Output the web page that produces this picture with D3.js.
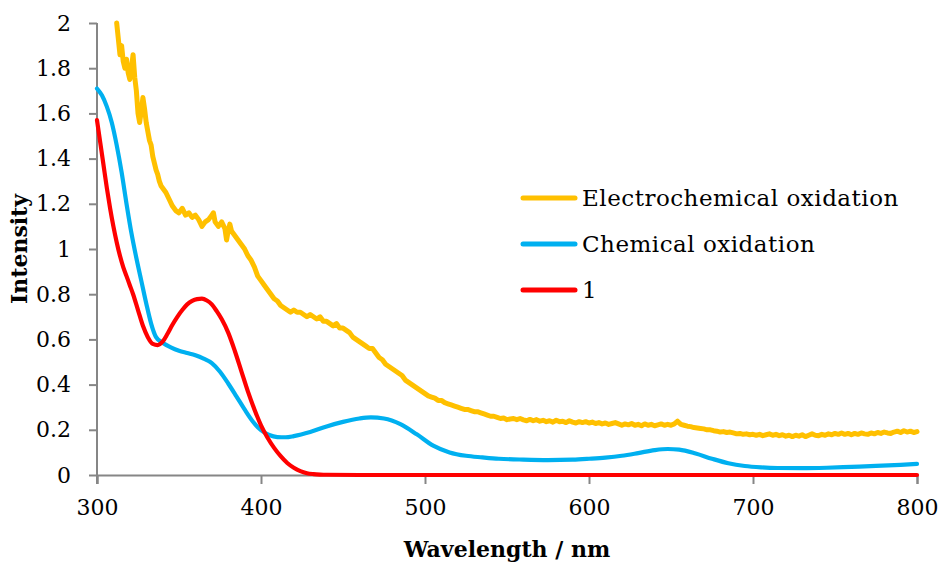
<!DOCTYPE html>
<html><head><meta charset="utf-8">
<script src="https://cdn.jsdelivr.net/npm/d3@7/dist/d3.min.js"></script>
<style>body{margin:0;background:#fff}svg{display:block}text{font-family:"DejaVu Serif",serif}</style>
</head><body><svg id="c" width="942" height="565"></svg>
<script>
const xTicks=[300,400,500,600,700,800];
const yTicks=[0,0.2,0.4,0.6,0.8,1,1.2,1.4,1.6,1.8,2];
const seriesNames=["Electrochemical oxidation","Chemical oxidation","1"];
const seriesColors=["#FFC000","#00B0F0","#FF0000"];
// Electrochemical oxidation: [wavelength, intensity]
const electro=[[312,2.00],[313,1.93],[314,1.86],[315,1.90],[316,1.83],[317,1.80],[318,1.84],[319,1.78],[320,1.75],[321,1.80],[322,1.86],[323,1.76],[324,1.70],[325,1.60],[326,1.56],[327,1.61],[328,1.67],[329,1.62],[330,1.56],[331,1.52],[332,1.48],[333,1.46],[334,1.41],[335,1.38],[336,1.35],[337,1.33],[338,1.30],[339,1.28],[340,1.27],[342,1.25],[344,1.22],[346,1.19],[348,1.17],[350,1.16],[352,1.18],[354,1.15],[356,1.16],[358,1.14],[360,1.15],[362,1.13],[364,1.10],[366,1.12],[368,1.13],[370,1.15],[371,1.16],[372,1.12],[374,1.10],[376,1.12],[378,1.09],[379,1.04],[380,1.08],[381,1.11],[382,1.08],[384,1.06],[386,1.04],[388,1.02],[390,1.00],[392,0.97],[394,0.95],[396,0.92],[398,0.88],[400,0.86],[402,0.84],[404,0.82],[406,0.80],[408,0.78],[410,0.77],[412,0.75],[414,0.74],[416,0.73],[418,0.72],[420,0.73],[422,0.72],[424,0.72],[426,0.71],[428,0.70],[430,0.71],[432,0.70],[434,0.69],[436,0.70],[438,0.68],[440,0.68],[442,0.67],[444,0.66],[446,0.67],[448,0.65],[450,0.65],[452,0.64],[454,0.63],[456,0.61],[458,0.60],[460,0.59],[462,0.58],[464,0.57],[466,0.56],[468,0.56],[470,0.54],[472,0.52],[474,0.51],[476,0.49],[478,0.48],[480,0.47],[482,0.46],[484,0.45],[486,0.44],[488,0.42],[490,0.41],[492,0.40],[494,0.39],[496,0.38],[498,0.37],
[500,0.36],[502,0.35],[504,0.345],[506,0.34],[508,0.33],[510,0.33],[512,0.32],[514,0.315],[516,0.31],[518,0.305],[520,0.30],[522,0.295],[524,0.29],[526,0.29],[528,0.285],[530,0.28],[532,0.28],[534,0.275],[536,0.27],[538,0.265],[540,0.26],[542,0.26],[544,0.255],[546,0.25],[548,0.252],[550,0.245],[552,0.248],[554,0.25],[556,0.245],[558,0.25],[560,0.244],[562,0.24],[564,0.246],[566,0.24],[568,0.245],[570,0.238],[572,0.242],[574,0.236],[576,0.24],[578,0.234],[580,0.242],[582,0.236],[584,0.238],[586,0.232],[588,0.24],[590,0.234],[592,0.23],[594,0.236],[596,0.232],[598,0.236],[600,0.23],[602,0.234],[604,0.228],[606,0.232],[608,0.226],[610,0.23],[612,0.224],[614,0.228],[616,0.232],[618,0.226],[620,0.22],[622,0.226],[624,0.222],[626,0.228],[628,0.22],[630,0.224],[632,0.218],[634,0.226],[636,0.22],[638,0.224],[640,0.218],[642,0.222],[644,0.226],[646,0.22],[648,0.224],[650,0.22],[652,0.226],[654,0.238],[656,0.224],[658,0.22],[660,0.216],[662,0.214],[664,0.21],[666,0.208],[668,0.206],[670,0.204],[672,0.2],[674,0.2],[676,0.196],[678,0.194],[680,0.19],[682,0.192],[684,0.188],[686,0.19],[688,0.186],[690,0.182],[692,0.184],[694,0.18],[696,0.182],[698,0.178],[700,0.18],[702,0.176],[704,0.18],[706,0.174],[708,0.178],[710,0.182],[712,0.176],[714,0.18],[716,0.174],[718,0.178],[720,0.172],[722,0.176],[724,0.17],[726,0.176],[728,0.172],[730,0.178],[732,0.17],[734,0.176],[736,0.182],[738,0.176],[740,0.174],[742,0.18],[744,0.176],[746,0.182],[748,0.178],[750,0.184],[752,0.18],[754,0.186],[756,0.18],[758,0.184],[760,0.178],[762,0.184],[764,0.18],[766,0.186],[768,0.182],[770,0.18],[772,0.186],[774,0.182],[776,0.188],[778,0.184],[780,0.19],[782,0.186],[784,0.184],[786,0.19],[788,0.194],[790,0.188],[792,0.196],[794,0.19],[796,0.194],[798,0.188],[800,0.192]];
const chemX=[300,303,306,309,312,315,318,321,324,327,330,333,336,340,345,350,355,360,365,370,375,380,385,390,395,400,405,410,415,420,430,440,450,460,467,475,485,495,505,515,525,535,545,560,575,590,600,610,620,630,640,648,655,665,675,685,695,705,715,730,745,760,775,790,800];
const chemY=[1.71,1.68,1.63,1.56,1.46,1.34,1.20,1.07,0.96,0.86,0.76,0.67,0.61,0.585,0.565,0.55,0.54,0.53,0.515,0.495,0.457,0.405,0.348,0.29,0.237,0.198,0.177,0.168,0.167,0.172,0.19,0.215,0.235,0.25,0.255,0.25,0.225,0.18,0.13,0.10,0.085,0.078,0.072,0.068,0.066,0.068,0.072,0.077,0.085,0.097,0.11,0.115,0.112,0.095,0.072,0.052,0.04,0.034,0.031,0.03,0.032,0.036,0.04,0.045,0.049];
const oneX=[300,302,304,306,308,310,312,314,316,318,320,322,325,328,331,334,337,340,343,346,349,352,355,358,361,364,367,370,373,376,380,384,388,392,396,400,404,408,412,416,420,424,428,432,436,440,460,500,600,700,800];
const oneY=[1.57,1.47,1.37,1.27,1.18,1.10,1.03,0.97,0.92,0.88,0.84,0.80,0.73,0.66,0.61,0.58,0.575,0.59,0.625,0.665,0.70,0.73,0.755,0.77,0.778,0.78,0.772,0.755,0.725,0.69,0.63,0.55,0.46,0.37,0.29,0.22,0.165,0.12,0.083,0.053,0.032,0.017,0.008,0.004,0.002,0.001,0,0,0,0,0];

const svg=d3.select("#c");
const L=97,R=917,T=23,B=475;
const x=d3.scaleLinear().domain([300,800]).range([L,R]);
const y=d3.scaleLinear().domain([0,2]).range([B,T]);
const axisColor="#868686";

const gx=svg.append("g").attr("transform",`translate(0,${B})`)
 .call(d3.axisBottom(x).tickValues(xTicks).tickSize(9).tickPadding(15).tickFormat(d3.format("d")));
const gy=svg.append("g").attr("transform",`translate(${L},0)`)
 .call(d3.axisLeft(y).tickValues(yTicks).tickSize(8).tickPadding(18).tickFormat(d=>d3.format("")(d)));
[gx,gy].forEach(g=>{
 g.select(".domain").attr("stroke",axisColor).attr("stroke-width",2);
 g.selectAll(".tick line").attr("stroke",axisColor).attr("stroke-width",2);
 g.selectAll(".tick text").attr("fill","#000").style("font-size","22px").style("font-family","DejaVu Serif");
});
gy.select(".domain").attr("d",`M0,${B+9}V${T}`);

const smooth=d3.line().x(d=>x(d[0])).y(d=>y(d[1])).curve(d3.curveMonotoneX);
const raw=d3.line().x(d=>x(d[0])).y(d=>y(d[1]));
const series=[electro,d3.zip(chemX,chemY),d3.zip(oneX,oneY)];
[0,1,2].forEach(i=>{
 svg.append("path").datum(series[i]).attr("fill","none").attr("stroke",seriesColors[i])
  .attr("stroke-width",i===0?5:4.2).attr("stroke-linejoin","round").attr("stroke-linecap","round")
  .attr("d",i===0?raw(series[i]):smooth(series[i]));
});

const lg=svg.append("g");
seriesNames.forEach((n,i)=>{
 const yy=198+i*46;
 lg.append("line").attr("x1",523).attr("x2",575).attr("y1",yy).attr("y2",yy)
  .attr("stroke",seriesColors[i]).attr("stroke-width",5).attr("stroke-linecap","round");
 lg.append("text").attr("x",582).attr("y",yy+8).text(n).style("font-size","23px").style("letter-spacing","0.5px");
});

svg.append("text").attr("x",507).attr("y",557).attr("text-anchor","middle")
 .style("font-size","22px").style("font-weight","bold").text("Wavelength / nm");
svg.append("text").attr("transform","translate(27,249) rotate(-90)").attr("text-anchor","middle")
 .style("font-size","22px").style("font-weight","bold").text("Intensity");
</script></body></html>
